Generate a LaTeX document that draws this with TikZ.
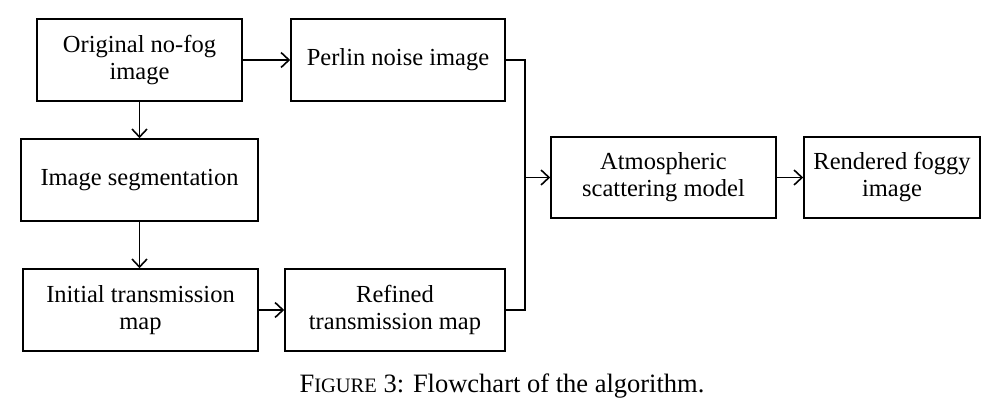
\documentclass[tikz,border=0pt]{standalone}
\usepackage{fontspec}
\setmainfont{Liberation Serif}
\usetikzlibrary{arrows.meta}

\begin{document}
\begin{tikzpicture}[x=1pt, y=-1pt, line width=1.6pt, >={Straight Barb[length=8pt,width=15pt]},
  box/.style={draw, rectangle, align=center, inner sep=0pt, minimum height=82pt,
    font=\fontsize{24.5}{27}\selectfont}]
  \useasboundingbox (0,0) rectangle (1002,414);
  \node[box, minimum width=205pt] (orig) at (139.5,60) {Original no-fog\\image};
  \node[box, minimum width=214pt] (perlin) at (398,60) {Perlin noise image};
  \node[box, minimum width=237pt] (seg) at (139.5,180) {Image segmentation};
  \node[box, minimum width=235pt] (init) at (140.5,310) {Initial transmission\\map};
  \node[box, minimum width=220pt] (refined) at (395,310) {Refined\\transmission map};
  \node[box, minimum width=225pt, minimum height=81pt] (atmo) at (663.5,177.5) {Atmospheric\\scattering model};
  \node[box, minimum width=176pt, minimum height=81pt] (render) at (892,177.5) {Rendered foggy\\image};
  \coordinate (bus) at (525,177.5);
  \path[->] (orig) edge (perlin)
            (orig) edge (seg)
            (seg) edge (seg.south |- init.north)
            (init) edge (refined)
            (bus) edge (atmo)
            (atmo) edge (render);
  \draw (perlin.east) -| (bus) |- (refined.east);
  \node[font=\fontsize{26.5}{29}\selectfont, anchor=base] (cap) at (502,392)
    {F{\fontsize{20.5}{22}\selectfont IGURE} 3: Flowchart of the algorithm.};
\end{tikzpicture}
\end{document}
